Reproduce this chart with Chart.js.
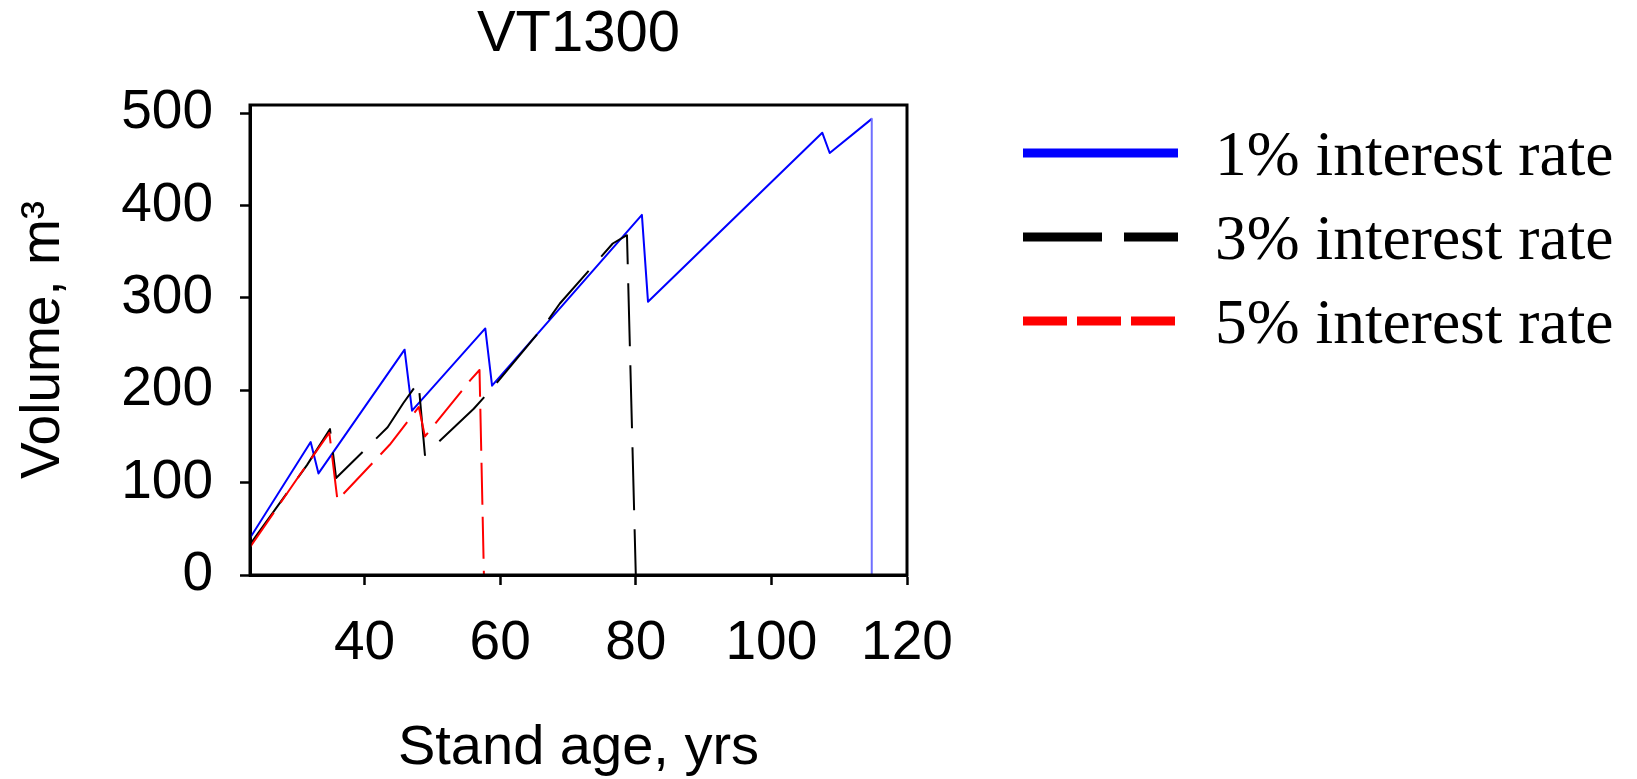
<!DOCTYPE html>
<html>
<head>
<meta charset="utf-8">
<title>VT1300</title>
<script src="https://cdn.jsdelivr.net/npm/chart.js@4.4.1/dist/chart.umd.min.js"></script>
<style>
  html, body { margin: 0; padding: 0; background: #fff; }
  #wrap { width: 1637px; height: 779px; }
</style>
</head>
<body>
<div id="wrap"><canvas id="vol-chart" width="1637" height="779"></canvas></div>
<script>
// values (stand age in years, volume in m3)
const seriesLabels = ['1% interest rate', '3% interest rate', '5% interest rate'];

const age1 = [23.1, 32.05, 33.2, 45.9, 47.0, 57.8, 58.8, 80.9, 81.8, 107.5, 108.6, 114.8, 114.8];
const vol1 = [40, 144, 110, 244, 178, 267, 205, 390, 296, 479, 457, 494, 0];

const age3 = [23.1, 31.5, 34.9, 35.8, 43.4, 45.7, 47.95, 48.9, 56.1, 58.8, 66.4, 68.8, 76.6, 78.7, 80.0];
const vol3 = [33, 119, 158, 105, 160, 186, 209, 130, 180, 202, 269, 294, 359, 368, 0];

const age5 = [23.1, 30.4, 34.8, 36.0, 43.7, 48.0, 48.9, 55.6, 56.95, 57.6];
const vol5 = [30, 108, 154, 81, 141, 182, 150, 211, 222, 0];

const xTicks = [40, 60, 80, 100, 120];
const yTicks = [0, 100, 200, 300, 400, 500];

const toPoints = function (xs, ys) {
  return xs.map((x, i) => ({ x: x, y: ys[i] }));
};

const sansFont = 'Liberation Sans';

// black frame round the plot area (top and right edges)
const framePlugin = {
  id: 'frame',
  afterDraw(chart) {
    const { ctx, chartArea } = chart;
    ctx.save();
    ctx.strokeStyle = '#000';
    ctx.lineWidth = 3;
    ctx.strokeRect(chartArea.left, chartArea.top, chartArea.right - chartArea.left, chartArea.bottom - chartArea.top);
    ctx.restore();
  }
};

// legend to the right of the plot, thick sample lines + serif labels
const sideLegendPlugin = {
  id: 'sideLegend',
  afterDraw(chart) {
    const ctx = chart.ctx;
    chart.data.datasets.forEach((ds, i) => {
      const y = 153 + i * 84;
      ctx.save();
      ctx.strokeStyle = ds.borderColor;
      ctx.lineWidth = 9;
      ctx.lineCap = 'butt';
      ctx.setLineDash(ds.legendDash);
      ctx.beginPath();
      ctx.moveTo(1023, y);
      ctx.lineTo(1178, y);
      ctx.stroke();
      ctx.restore();

      ctx.save();
      ctx.fillStyle = '#000';
      ctx.font = '63.5px "Liberation Serif"';
      ctx.textAlign = 'left';
      ctx.textBaseline = 'alphabetic';
      ctx.fillText(ds.label, 1215, y + 22);
      ctx.restore();
    });
  }
};

// vertical (clear-cut) drops look paler in the original
const isDrop = (ctx) => ctx.p0.parsed.x === ctx.p1.parsed.x;

const chartData = {
  datasets: [
    {
      label: seriesLabels[0],
      data: toPoints(age1, vol1),
      borderColor: '#0000ff',
      borderWidth: 2,
      legendDash: [],
      segment: { borderColor: (ctx) => isDrop(ctx) ? '#6f6fff' : undefined },
      order: 3
    },
    {
      label: seriesLabels[1],
      data: toPoints(age3, vol3),
      borderColor: '#000000',
      borderWidth: 2,
      borderDash: [63, 19],
      legendDash: [79, 22],
      order: 2
    },
    {
      label: seriesLabels[2],
      data: toPoints(age5, vol5),
      borderColor: '#ff0000',
      borderWidth: 2,
      borderDash: [42, 12],
      legendDash: [44, 10],
      order: 1
    }
  ]
};

const chartBox = document.getElementById('vol-chart');
const chart = new Chart(chartBox, {
  type: 'line',
  data: chartData,
  options: {
    responsive: false,
    animation: false,
    layout: { padding: { left: 0, right: 730, top: 0, bottom: 0 } },
    elements: {
      point: { radius: 0, hoverRadius: 0 },
      line: { tension: 0, borderJoinStyle: 'round', fill: false }
    },
    plugins: {
      legend: { display: false }, //drawn by sideLegend plugin
      tooltip: { enabled: false },
      title: {
        display: true,
        text: 'VT1300',
        fullSize: false,
        color: '#000',
        font: { family: sansFont, size: 58, weight: 'normal', lineHeight: 1.2 },
        padding: { top: 0, bottom: 35.4 }
      }
    },
    scales: {
      x: {
        type: 'linear',
        position: 'bottom',
        min: 23.1,
        max: 120,
        afterBuildTicks: (scale) => { scale.ticks = xTicks.map(v => ({ value: v })); },
        afterFit: (scale) => { scale.height = 204; },
        border: { display: true, color: '#000', width: 3 },
        grid: { drawOnChartArea: false, drawTicks: true, tickLength: 10, tickColor: '#000', tickWidth: 2.5 },
        ticks: { color: '#000', padding: 26, maxRotation: 0, font: { family: sansFont, size: 55 } },
        title: {
          display: true,
          text: 'Stand age, yrs',
          color: '#000',
          font: { family: sansFont, size: 56, lineHeight: 1.1 },
          padding: 0
        }
      },
      y: {
        type: 'linear',
        min: 0,
        max: 509,
        afterBuildTicks: (scale) => { scale.ticks = yTicks.map(v => ({ value: v })); },
        afterFit: (scale) => { scale.width = 250; },
        border: { display: true, color: '#000', width: 3 },
        grid: { drawOnChartArea: false, drawTicks: true, tickLength: 10, tickColor: '#000', tickWidth: 2.5 },
        ticks: { color: '#000', padding: 27, font: { family: sansFont, size: 55 } },
        title: {
          display: true,
          text: 'Volume, m³',
          color: '#000',
          font: { family: sansFont, size: 55, lineHeight: 1.1 },
          padding: { top: 14, bottom: 0 }
        }
      }
    }
  },
  plugins: [framePlugin, sideLegendPlugin]
});
</script>
</body>
</html>
